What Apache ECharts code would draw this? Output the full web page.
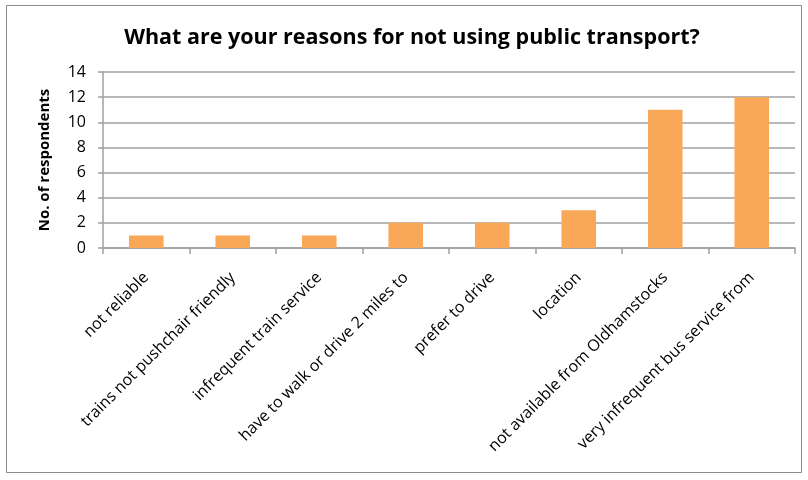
<!DOCTYPE html>
<html>
<head>
<meta charset="utf-8">
<script src="https://cdn.jsdelivr.net/npm/echarts@6/dist/echarts.min.js"></script>
<style>
  html, body { margin: 0; padding: 0; background: #fff; }
  #chart { width: 808px; height: 480px; }
</style>
</head>
<body>
<div id="chart"></div>
<script>
// Survey answers: reasons given for not using public transport
const categories = [
  'not reliable',
  'trains not pushchair friendly',
  'infrequent train service',
  'have to walk or drive 2 miles to',
  'prefer to drive',
  'location',
  'not available from Oldhamstocks',
  'very infrequent bus service from'
];
const respondents = [1, 1, 1, 2, 2, 3, 11, 12];
const yTicks = [0, 2, 4, 6, 8, 10, 12, 14];

const chart = echarts.init(document.getElementById('chart'), null, { renderer: 'canvas' });
const fontFamily = '"Open Sans", Lato, sans-serif';
const gridColor = '#a0a0a0';

chart.setOption({
  backgroundColor: '#fff',
  animation: false,
  graphic: [{
    type: 'rect',
    shape: { x: 6.5, y: 5.5, width: 795, height: 467 },
    style: { fill: 'none', stroke: '#8c8c8c', lineWidth: 1 },
    silent: true
  }],
  title: {
    text: 'What are your reasons for not using public transport?',
    left: 407,
    textAlign: 'center',
    top: 22,
    textStyle: { fontFamily, fontSize: 21.5, fontWeight: 'bold', color: '#000' }
  },
  grid: { left: 103, right: 13, top: 72, bottom: 232, containLabel: false },
  xAxis: {
    type: 'category',
    data: categories,
    axisLine: { lineStyle: { color: gridColor, width: 1.5 } },
    axisTick: { show: true, length: 6, lineStyle: { color: gridColor, width: 1.5 } },
    axisLabel: {
      interval: 0,
      rotate: 45,
      margin: 27,
      fontFamily,
      fontSize: 16,
      color: '#000'
    }
  },
  yAxis: {
    type: 'value',
    min: yTicks[0],
    max: yTicks[yTicks.length - 1],
    interval: 2,
    name: 'No. of respondents',
    nameLocation: 'middle',
    nameGap: 51,
    nameTextStyle: { fontFamily, fontSize: 15, fontWeight: 'bold', color: '#000' },
    axisLine: { show: true, lineStyle: { color: gridColor, width: 1.5 } },
    axisTick: { show: true, length: 5, lineStyle: { color: gridColor, width: 1.5 } },
    axisLabel: { fontFamily, fontSize: 16, color: '#000', margin: 17 },
    splitLine: { lineStyle: { color: gridColor, width: 1.5 } }
  },
  series: [{
    type: 'bar',
    data: respondents,
    barWidth: '40%',
    itemStyle: { color: '#f9a857' }
  }]
});
</script>
</body>
</html>
